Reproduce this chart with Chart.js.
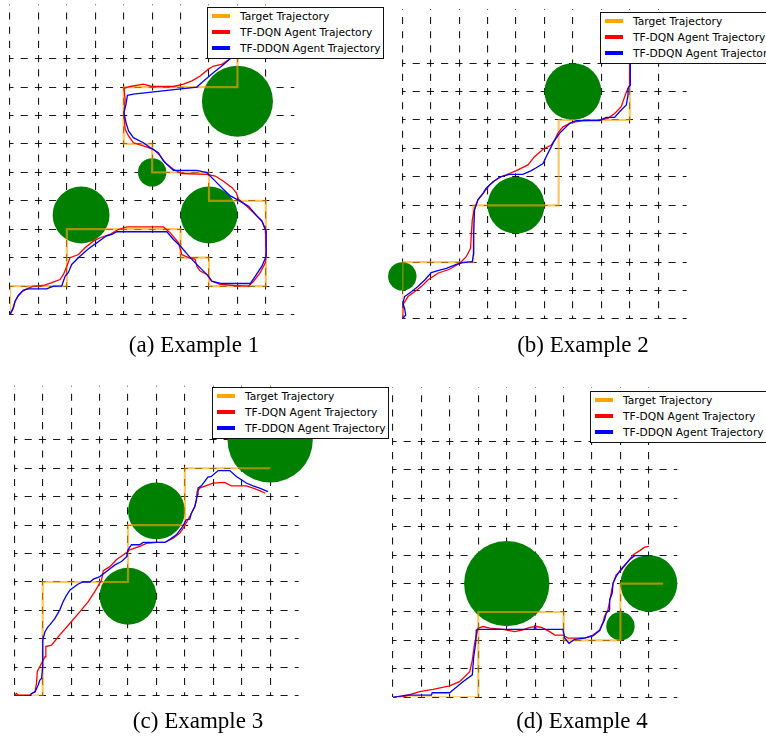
<!DOCTYPE html>
<html>
<head>
<meta charset="utf-8">
<script src="https://cdn.jsdelivr.net/npm/chart.js@4.4.1/dist/chart.umd.min.js"></script>
<style>
  body { margin: 0; width: 766px; height: 739px; overflow: hidden; background: #fff; position: relative; }
  canvas { position: absolute; }
  .legend { position: absolute; width: 177px; height: 52px; box-sizing: border-box; border: 1px solid #111; background: #fff;
            font-family: 'DejaVu Sans', sans-serif; font-size: 10.7px; color: #000; white-space: nowrap; overflow: hidden; }
  .legend .row { height: 16px; display: flex; align-items: center; }
  .legend .key { width: 18px; height: 4px; margin: 0 10px 0 4px; flex: none; }
  .caption { position: absolute; width: 240px; text-align: center; font-family: 'Liberation Serif', 'Times New Roman', serif;
             font-size: 23px; line-height: 23px; color: #000; white-space: nowrap; }
</style>
</head>
<body>
<canvas id="ex1" width="383" height="340" style="left:0;top:0"></canvas>
<canvas id="ex2" width="383" height="340" style="left:383px;top:0"></canvas>
<canvas id="ex3" width="383" height="340" style="left:0;top:380px"></canvas>
<canvas id="ex4" width="383" height="340" style="left:383px;top:380px"></canvas>
<script>
// grid cells are 1 unit; obstacles are [x, y, radius]
const gridTicks = [0, 1, 2, 3, 4, 5, 6, 7, 8, 9];
const legendLabels = ['Target Trajectory', 'TF-DQN Agent Trajectory', 'TF-DDQN Agent Trajectory'];
const legendColors = ['#ffa500', '#ff0000', '#0000ff'];

// Example 1
const ex1Obstacles = [[8, 7.5, 1.25], [5, 5, 0.5], [2.5, 3.5, 1], [7, 3.5, 1]];
const ex1Target = [[0,0],[0,1],[2,1],[2,3],[6,3],[6,2],[7,2],[7,1],[9,1],[9,4],[7,4],[7,5],[5,5],[5,6],[4,6],[4,8],[8,8],[8,10]];
const ex1Dqn = [[0,0],[0.12,0.23],[0.18,0.47],[0.29,0.65],[0.41,0.79],[0.59,0.9],[0.82,1.0],[1.17,1.02],[1.47,1.12],[1.76,1.23],
  [1.88,1.41],[2.0,1.7],[2.11,2.0],[2.41,2.11],[2.64,2.35],[2.93,2.58],[3.17,2.7],[3.52,2.82],[3.81,2.99],[4.11,3.08],[5.4,3.08],
  [5.63,2.88],[5.93,2.52],[6.04,2.11],[6.28,2.0],[6.51,1.94],[6.57,1.7],[6.69,1.53],[6.92,1.41],[7.1,1.17],[7.39,1.06],[7.86,1.02],
  [8.39,1.0],[8.57,1.17],[8.8,1.47],[8.98,1.82],[9.01,2.17],[9.01,2.52],[8.98,2.99],[8.86,3.29],[8.57,3.58],[8.33,3.81],[8.04,4.05],
  [7.96,4.28],[7.81,4.46],[7.51,4.69],[7.22,4.87],[6.92,4.93],[6.04,4.96],[5.75,5.11],[5.46,5.34],[5.28,5.58],[5.05,5.81],[4.69,5.93],
  [4.34,6.04],[4.17,6.28],[4.05,6.51],[4.01,7.1],[4.05,7.57],[4.01,7.95],[4.23,8.02],[4.69,8.1],[4.99,8.02],[5.75,8.02],[6.1,8.1],
  [6.4,8.22],[6.69,8.39],[6.98,8.63],[7.16,8.74],[7.45,8.8],[7.75,9.0],[8.0,9.5],[8.0,10.0]];
const ex1Ddqn = [[0,0],[0.09,0.18],[0.18,0.47],[0.29,0.67],[0.47,0.86],[0.65,0.9],[1.29,0.9],[1.53,1.0],[1.82,1.0],[1.94,1.35],
  [2.05,1.47],[2.17,1.76],[2.46,2.05],[2.76,2.31],[3.05,2.52],[3.38,2.76],[3.58,2.82],[3.76,2.91],[5.52,2.91],[5.75,2.64],[5.99,2.41],
  [6.34,2.0],[6.69,1.64],[6.98,1.35],[7.1,1.17],[7.45,1.09],[8.45,1.09],[8.63,1.35],[8.86,1.7],[9.01,2.05],[9.01,2.93],[8.86,3.29],
  [8.69,3.46],[8.39,3.81],[7.98,4.05],[7.75,4.17],[7.51,4.4],[7.22,4.69],[6.92,4.99],[6.57,5.07],[5.75,5.07],[5.58,5.22],[5.4,5.4],
  [5.22,5.69],[4.93,5.87],[4.69,6.04],[4.34,6.22],[4.17,6.46],[4.08,6.75],[4.01,7.1],[4.08,7.39],[4.13,7.71],[4.34,7.75],[6.57,8.0],
  [6.75,8.16],[7.16,8.51],[7.45,8.74],[7.75,9.0],[8.0,9.5],[8.0,10.0]];

// Example 2
const ex2Obstacles = [[6, 8, 1], [4, 4, 1], [0, 1.5, 0.5]];
const ex2Target = [[0,0],[0,2],[2.5,2],[2.5,4],[5.5,4],[5.5,7],[8,7],[8,10]];
const ex2Dqn = [[0,0.02],[0.02,0.32],[0.05,0.55],[0.2,0.79],[0.43,0.96],[0.67,1.14],[0.9,1.37],[1.25,1.61],[1.66,1.75],[2.02,1.96],
  [2.25,2.19],[2.4,2.49],[2.43,3.01],[2.46,3.48],[2.54,3.89],[2.66,4.19],[2.84,4.42],[3.07,4.71],[3.36,4.95],[3.72,5.1],[4.01,5.22],
  [4.42,5.42],[4.65,5.71],[4.95,5.97],[5.24,6.12],[5.36,6.3],[5.47,6.53],[5.65,6.76],[5.94,6.91],[6.35,6.98],[6.94,7.0],[7.23,7.06],
  [7.47,7.23],[7.7,7.47],[7.78,7.7],[7.82,7.82],[7.91,8.05],[8.0,8.23],[8.0,9.0],[8.0,10.0]];
const ex2Ddqn = [[0,0],[0.12,0.14],[0.08,0.38],[0.02,0.55],[0.08,0.79],[0.32,0.96],[0.55,1.14],[0.79,1.37],[1.02,1.63],[1.25,1.7],
  [1.55,1.78],[1.9,1.92],[2.13,1.98],[2.46,2.02],[2.51,2.31],[2.51,3.01],[2.54,3.83],[2.66,4.19],[2.84,4.42],[2.95,4.6],[3.19,4.83],
  [3.48,5.01],[3.77,5.09],[4.24,5.09],[4.54,5.22],[4.71,5.32],[4.95,5.47],[5.06,5.71],[5.18,5.94],[5.33,6.24],[5.53,6.53],[5.71,6.71],
  [5.89,6.88],[6.12,6.98],[6.94,6.98],[7.17,7.09],[7.47,7.09],[7.64,7.29],[7.88,7.53],[7.94,7.88],[7.94,8.11],[8.02,8.23],[8.02,9.0],
  [8.02,10.0]];

// Example 3
const ex3Obstacles = [[9, 9, 1.5], [5, 6.5, 1], [4, 3.5, 1]];
const ex3Target = [[0,0],[1,0],[1,4],[4,4],[4,6],[6,6],[6,8],[9,8]];
const ex3Dqn = [[0,0],[0.08,0.08],[0.14,0.02],[0.55,0.02],[0.61,0.08],[0.73,0.14],[0.78,0.43],[0.81,0.85],[0.96,1.14],[1.08,1.37],
  [1.11,1.73],[1.31,1.78],[1.6,2.14],[1.96,2.55],[2.31,2.96],[2.6,3.31],[2.83,3.66],[3.07,4.07],[3.13,4.4],[3.36,4.54],[3.59,4.78],
  [3.95,5.04],[4.06,5.13],[4.41,5.25],[4.65,5.36],[5.0,5.39],[5.29,5.39],[5.59,5.54],[5.82,5.72],[5.94,5.89],[6.11,6.19],[6.23,6.42],
  [6.35,6.65],[6.41,6.89],[6.43,7.18],[6.52,7.3],[6.99,7.48],[7.4,7.5],[7.63,7.38],[8.16,7.38],[8.4,7.3],[8.63,7.21],[8.83,7.12]];
const ex3Ddqn = [[0,0],[0.55,0],[0.61,0.08],[0.73,0.14],[0.84,0.38],[0.9,0.55],[0.96,0.61],[1.0,1.02],[1.0,1.96],[1.08,2.25],
  [1.19,2.43],[1.25,2.49],[1.43,2.72],[1.6,3.02],[1.72,3.31],[1.84,3.54],[1.96,3.72],[2.25,3.93],[2.42,4.0],[2.66,4.0],[2.78,4.1],
  [3.01,4.19],[3.24,4.37],[3.54,4.6],[3.77,4.72],[3.95,4.89],[4.0,5.13],[4.12,5.31],[4.41,5.31],[4.53,5.39],[5.29,5.39],[5.47,5.5],
  [5.7,5.66],[5.88,5.89],[6.05,6.19],[6.17,6.21],[6.23,6.42],[6.35,6.65],[6.44,7.07],[6.46,7.3],[6.58,7.38],[6.81,7.69],[6.93,7.71],
  [7.17,7.92],[7.58,7.92],[7.81,7.71],[8.16,7.48],[8.4,7.38],[8.63,7.3],[8.92,7.18]];

// Example 4
const ex4Obstacles = [[4, 4, 1.5], [9, 4, 1], [8, 2.5, 0.5]];
const ex4Target = [[0,0],[3,0],[3,3],[6,3],[6,2],[8,2],[8,4],[9.5,4]];
const ex4Dqn = [[0,0],[0.35,0.02],[0.94,0.2],[1.41,0.28],[1.99,0.4],[2.34,0.55],[2.7,0.9],[2.79,1.31],[2.87,1.9],[2.99,2.43],
  [3.17,2.49],[3.4,2.43],[3.87,2.39],[4.28,2.31],[4.57,2.37],[4.81,2.46],[5.04,2.49],[5.22,2.46],[5.51,2.31],[5.69,2.19],[5.98,2.19],
  [6.15,2.08],[6.45,2.08],[6.8,2.1],[7.03,2.19],[7.27,2.37],[7.39,2.66],[7.44,2.84],[7.56,3.08],[7.62,3.37],[7.74,4.01],[7.85,4.31],
  [8.03,4.48],[8.27,4.78],[8.44,5.01],[8.68,5.16],[8.85,5.28],[9.0,5.31]];
const ex4Ddqn = [[0,0],[0.47,0.08],[1.35,0.08],[1.38,0.16],[1.99,0.16],[2.11,0.26],[2.46,0.55],[2.79,0.79],[2.84,1.43],[2.91,1.9],
  [2.93,2.37],[2.99,2.39],[4.98,2.39],[4.98,2.49],[5.04,2.39],[5.98,2.39],[6.04,2.08],[6.19,1.9],[6.39,2.04],[6.74,2.08],[7.03,2.16],
  [7.27,2.35],[7.33,2.49],[7.44,2.72],[7.5,2.96],[7.62,3.08],[7.62,3.43],[7.71,3.66],[7.74,4.01],[7.85,4.25],[8.0,4.48],[8.32,4.84],
  [8.5,4.98],[9.0,4.98]];

// layout (page pixels): where data (0,0) sits, legend box corner, caption
const UNIT = 28.43, X_MAX = 10, Y_MAX = 10.9, CW = 383, CH = 340;
const DASH = 7.1, PERIOD = UNIT / 2;
const panels = [
  { id: 'ex1', ox: 0,   oy: 0,   x0: 10,    y0: 314.5, target: ex1Target, dqn: ex1Dqn, ddqn: ex1Ddqn, obstacles: ex1Obstacles,
    legend: [207, 7],   caption: '(a) Example 1', cap: [194, 333] },
  { id: 'ex2', ox: 383, oy: 0,   x0: 402.3, y0: 319,   target: ex2Target, dqn: ex2Dqn, ddqn: ex2Ddqn, obstacles: ex2Obstacles,
    legend: [600, 12],  caption: '(b) Example 2', cap: [583, 333] },
  { id: 'ex3', ox: 0,   oy: 380, x0: 14.3,  y0: 695.7, target: ex3Target, dqn: ex3Dqn, ddqn: ex3Ddqn, obstacles: ex3Obstacles,
    legend: [212, 387], caption: '(c) Example 3', cap: [198, 709] },
  { id: 'ex4', ox: 383, oy: 380, x0: 393,   y0: 697.3, target: ex4Target, dqn: ex4Dqn, ddqn: ex4Ddqn, obstacles: ex4Obstacles,
    legend: [590, 391], caption: '(d) Example 4', cap: [582, 709] }
];

const toPts = (arr) => arr.map((p) => ({ x: p[0], y: p[1] }));

function radiusPx(ctx) {
  const sx = ctx.chart.scales.x;
  if (!sx || !ctx.raw) return 0;
  return Math.abs(sx.getPixelForValue(ctx.raw.r) - sx.getPixelForValue(0));
}

function gridScale(max, dashOffset) {
  return {
    type: 'linear', min: 0, max: max,
    afterBuildTicks: (s) => { s.ticks = gridTicks.map((v) => ({ value: v })); },
    ticks: { display: false },
    grid: { color: 'rgba(0,0,0,0.9)', lineWidth: 1.1, drawTicks: false },
    border: { display: false, dash: [DASH, PERIOD - DASH], dashOffset: dashOffset }
  };
}

function addLegend(p) {
  const box = document.createElement('div');
  box.className = 'legend';
  box.style.left = p.legend[0] + 'px';
  box.style.top = p.legend[1] + 'px';
  legendLabels.forEach((label, i) => {
    const row = document.createElement('div');
    row.className = 'row';
    const key = document.createElement('span');
    key.className = 'key';
    key.style.background = legendColors[i];
    const txt = document.createElement('span');
    txt.textContent = label;
    row.appendChild(key);
    row.appendChild(txt);
    box.appendChild(row);
  });
  document.body.appendChild(box);

  const cap = document.createElement('div');
  cap.className = 'caption';
  cap.style.left = (p.cap[0] - 120) + 'px';
  cap.style.top = p.cap[1] + 'px';
  cap.textContent = p.caption;
  document.body.appendChild(cap);
}

panels.forEach((p) => {
  const left = p.x0 - p.ox;
  const bottom = CH - (p.y0 - p.oy);
  const areaH = Y_MAX * UNIT;
  const pad = { left: left, right: CW - left - X_MAX * UNIT, bottom: bottom, top: CH - bottom - areaH };
  // centre a dash on every grid crossing
  const vOffset = (((DASH / 2 - (areaH % PERIOD)) % PERIOD) + PERIOD) % PERIOD;

  new Chart(document.getElementById(p.id), {
    type: 'scatter',
    data: {
      datasets: [
        { label: legendLabels[2], data: toPts(p.ddqn), showLine: true, borderColor: '#0000ff', borderWidth: 1.3, pointRadius: 0 },
        { label: legendLabels[1], data: toPts(p.dqn), showLine: true, borderColor: '#ff0000', borderWidth: 1.3, pointRadius: 0 },
        { label: legendLabels[0], data: toPts(p.target), showLine: true, borderColor: 'rgba(255,165,0,0.62)', borderWidth: 2.2, pointRadius: 0 },
        { label: 'Obstacles', data: p.obstacles.map((o) => ({ x: o[0], y: o[1], r: o[2] })), clip: false,
          pointRadius: radiusPx, pointHoverRadius: radiusPx, pointBackgroundColor: '#008000', pointBorderWidth: 0 }
      ]
    },
    options: {
      responsive: false,
      animation: false,
      events: [],
      layout: { autoPadding: false, padding: pad },
      plugins: { legend: { display: false }, tooltip: { enabled: false } },
      scales: { x: gridScale(X_MAX, vOffset), y: gridScale(Y_MAX, DASH / 2) }
    }
  });
  addLegend(p);
});
</script>
</body>
</html>
